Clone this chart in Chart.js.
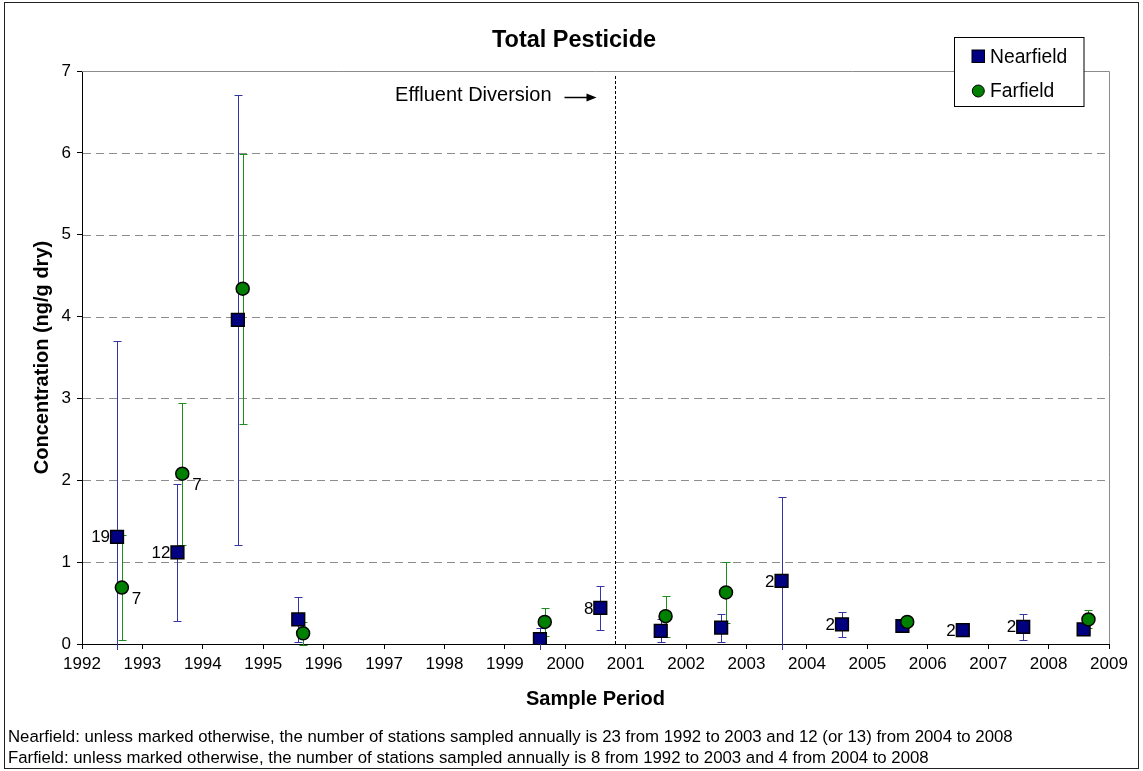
<!DOCTYPE html>
<html>
<head>
<meta charset="utf-8">
<title>Total Pesticide</title>
<script src="https://cdn.jsdelivr.net/npm/chart.js@4.4.1/dist/chart.umd.min.js"></script>
<style>
  html, body { margin: 0; padding: 0; background: #fff; }
  #wrap { width: 1143px; height: 771px; }
</style>
</head>
<body>
<div id="wrap"><canvas id="pesticide-chart" width="1143" height="771"></canvas></div>
<script>
// Total pesticide (ng/g dry): mean and error half-range per sample period
const nearX     = [1992.58, 1993.58, 1994.58, 1995.58, 1999.58, 2000.58, 2001.58, 2002.58, 2003.58, 2004.58, 2005.58, 2006.58, 2007.58, 2008.58];
const nearMean  = [1.31, 1.12, 3.96, 0.30, 0.06, 0.44, 0.16, 0.20, 0.77, 0.24, 0.22, 0.17, 0.21, 0.18];
const nearErr   = [2.39, 0.84, 2.75, 0.28, 0.13, 0.27, 0.14, 0.17, 1.02, 0.15, 0.03, 0.03, 0.16, 0.03];
const nearCount = ['19', '12', '', '', '', '8', '', '', '2', '2', '', '2', '2', ''];

const farX      = [1992.66, 1993.66, 1994.66, 1995.66, 1999.66, 2001.66, 2002.66, 2005.66, 2008.66];
const farMean   = [0.69, 2.08, 4.34, 0.13, 0.27, 0.34, 0.63, 0.27, 0.30];
const farErr    = [0.64, 0.87, 1.65, 0.14, 0.17, 0.25, 0.37, 0.04, 0.11];
const farCount  = ['7', '7', '', '', '', '', '', '', ''];

const diversionX = 2000.82;
const diversionLabel = 'Effluent Diversion';

const footnotes = [
    'Nearfield: unless marked otherwise, the number of stations sampled annually is 23 from 1992 to 2003 and 12 (or 13) from 2004 to 2008',
    'Farfield: unless marked otherwise, the number of stations sampled annually is 8 from 1992 to 2003 and 4 from 2004 to 2008'
];

const FONT = '"Liberation Sans", Arial, Helvetica, sans-serif';
const NEAR_COLOR = '#000080';
const FAR_COLOR = '#008000';

function toPoints(xs, ys) {
    return xs.map((x, i) => ({ x: x, y: ys[i] }));
}

function drawErrorBars(ctx, xScale, yScale, xs, means, errs, color) {
    ctx.strokeStyle = color;
    ctx.lineWidth = 1;
    xs.forEach((xv, i) => {
        const px = Math.round(xScale.getPixelForValue(xv)) + 0.5;
        const top = Math.round(yScale.getPixelForValue(means[i] + errs[i])) + 0.5;
        const bot = Math.round(yScale.getPixelForValue(means[i] - errs[i])) + 0.5;
        ctx.beginPath();
        ctx.moveTo(px, top); ctx.lineTo(px, bot);
        ctx.moveTo(px - 4, top); ctx.lineTo(px + 4, top);
        ctx.moveTo(px - 4, bot); ctx.lineTo(px + 4, bot);
        ctx.stroke();
    });
}

const decorations = {
    id: 'decorations',
    beforeDatasetsDraw(chart) {
        const { ctx, chartArea: a, scales: { x, y } } = chart;
        ctx.save();
        // dashed gridlines
        ctx.strokeStyle = '#8c8c8c';
        ctx.lineWidth = 1;
        ctx.setLineDash([8, 5]);
        for (let v = 1; v < 7; v++) {
            const py = Math.round(y.getPixelForValue(v)) + 0.5;
            ctx.beginPath(); ctx.moveTo(a.left + 1, py); ctx.lineTo(a.right, py); ctx.stroke();
        }
        ctx.setLineDash([]);
        // top and right border of plot area
        ctx.strokeStyle = '#8c8c8c';
        ctx.beginPath();
        ctx.moveTo(a.left, a.top + 0.5);
        ctx.lineTo(Math.round(a.right) + 0.5, a.top + 0.5);
        ctx.lineTo(Math.round(a.right) + 0.5, a.bottom);
        ctx.stroke();

        // effluent diversion marker
        const dx = Math.round(x.getPixelForValue(diversionX)) + 0.5;
        ctx.strokeStyle = '#000';
        ctx.setLineDash([3, 2]);
        ctx.beginPath(); ctx.moveTo(dx, a.top + 5); ctx.lineTo(dx, a.bottom); ctx.stroke();
        ctx.setLineDash([]);
        ctx.fillStyle = '#000';
        ctx.font = '20px ' + FONT;
        ctx.textAlign = 'right';
        ctx.textBaseline = 'alphabetic';
        ctx.fillText(diversionLabel, dx - 64, a.top + 30);
        ctx.lineWidth = 1.5;
        ctx.beginPath(); ctx.moveTo(dx - 51, a.top + 26.5); ctx.lineTo(dx - 24, a.top + 26.5); ctx.stroke();
        ctx.beginPath();
        ctx.moveTo(dx - 19, a.top + 26.5);
        ctx.lineTo(dx - 29, a.top + 22.5);
        ctx.lineTo(dx - 29, a.top + 30.5);
        ctx.closePath(); ctx.fill();

        // error bars, clipped to plot area
        ctx.beginPath();
        ctx.rect(a.left, a.top, a.right - a.left, a.bottom - a.top + 6);
        ctx.clip();
        drawErrorBars(ctx, x, y, nearX, nearMean, nearErr, '#3535a8');
        drawErrorBars(ctx, x, y, farX, farMean, farErr, '#1e8c1e');
        ctx.restore();
    },
    afterDraw(chart) {
        const { ctx, chartArea: a, scales: { x, y } } = chart;
        ctx.save();
        ctx.fillStyle = '#000';
        ctx.textBaseline = 'middle';
        ctx.font = '17px ' + FONT;

        // station counts
        ctx.textAlign = 'right';
        nearCount.forEach((t, i) => {
            if (!t) return;
            ctx.fillText(t, x.getPixelForValue(nearX[i]) - 7, y.getPixelForValue(nearMean[i]) + 1);
        });
        ctx.textAlign = 'left';
        farCount.forEach((t, i) => {
            if (!t) return;
            ctx.fillText(t, x.getPixelForValue(farX[i]) + 10, y.getPixelForValue(farMean[i]) + 12);
        });

        // title
        ctx.textBaseline = 'alphabetic';
        ctx.textAlign = 'center';
        ctx.font = 'bold 23.5px ' + FONT;
        ctx.fillText('Total Pesticide', 574, 47);

        // axis titles
        ctx.font = 'bold 20px ' + FONT;
        ctx.fillText('Sample Period', (a.left + a.right) / 2, 705);
        ctx.save();
        ctx.translate(48, (a.top + a.bottom) / 2);
        ctx.rotate(-Math.PI / 2);
        ctx.fillText('Concentration (ng/g dry)', 0, 0);
        ctx.restore();

        // legend
        ctx.fillStyle = '#fff';
        ctx.fillRect(954.5, 37.5, 129.5, 69);
        ctx.strokeStyle = '#000';
        ctx.lineWidth = 1;
        ctx.strokeRect(954.5, 37.5, 129.5, 69);
        ctx.fillStyle = NEAR_COLOR;
        ctx.fillRect(972, 50, 12.5, 12.5);
        ctx.strokeRect(972, 50, 12.5, 12.5);
        ctx.fillStyle = FAR_COLOR;
        ctx.beginPath(); ctx.arc(978.3, 91, 6, 0, Math.PI * 2); ctx.fill(); ctx.stroke();
        ctx.fillStyle = '#000';
        ctx.textAlign = 'left';
        ctx.font = '19.3px ' + FONT;
        ctx.fillText('Nearfield', 990, 63);
        ctx.fillText('Farfield', 990, 97);

        // footnotes
        ctx.font = '16.8px ' + FONT;
        ctx.fillText(footnotes[0], 8, 742);
        ctx.fillText(footnotes[1], 8, 763);

        // outer frame
        ctx.strokeStyle = '#222';
        ctx.strokeRect(4.5, 2.5, 1134, 766);
        ctx.restore();
    }
};

document.addEventListener('DOMContentLoaded', () => {
    const ctx = document.getElementById('pesticide-chart').getContext('2d');

    const data = {
        datasets: [
            {
                label: 'Nearfield',
                data: toPoints(nearX, nearMean),
                pointStyle: 'rect',
                pointRadius: 9,
                backgroundColor: NEAR_COLOR,
                borderColor: '#000',
                borderWidth: 1.5,
                order: 2
            },
            {
                label: 'Farfield',
                data: toPoints(farX, farMean),
                pointStyle: 'circle',
                pointRadius: 6.5,
                backgroundColor: FAR_COLOR,
                borderColor: '#000',
                borderWidth: 1.5,
                order: 1
            }
        ]
    };

    const config = {
        type: 'scatter',
        data: data,
        options: {
            responsive: false,
            animation: false,
            devicePixelRatio: 1,
            layout: { padding: { top: 71, right: 34, bottom: 0, left: 0 } },
            plugins: {
                legend: { display: false },
                title: { display: false },
                tooltip: { enabled: false }
            },
            scales: {
                x: {
                    type: 'linear',
                    min: 1992,
                    max: 2009,
                    afterFit: s => { s.height = 127; },
                    border: { display: true, color: '#000', width: 1 },
                    grid: { drawOnChartArea: false, drawTicks: true, tickLength: 5, tickColor: '#000' },
                    ticks: {
                        stepSize: 1,
                        autoSkip: false,
                        maxRotation: 0,
                        padding: 5,
                        color: '#000',
                        font: { family: FONT, size: 17 },
                        callback: v => String(v)
                    }
                },
                y: {
                    min: 0,
                    max: 7,
                    afterFit: s => { s.width = 82; },
                    border: { display: true, color: '#000', width: 1 },
                    grid: { drawOnChartArea: false, drawTicks: true, tickLength: 5, tickColor: '#000' },
                    ticks: {
                        stepSize: 1,
                        padding: 6,
                        color: '#000',
                        font: { family: FONT, size: 17 }
                    }
                }
            }
        },
        plugins: [decorations]
    };

    new Chart(ctx, config);
});
</script>
</body>
</html>
